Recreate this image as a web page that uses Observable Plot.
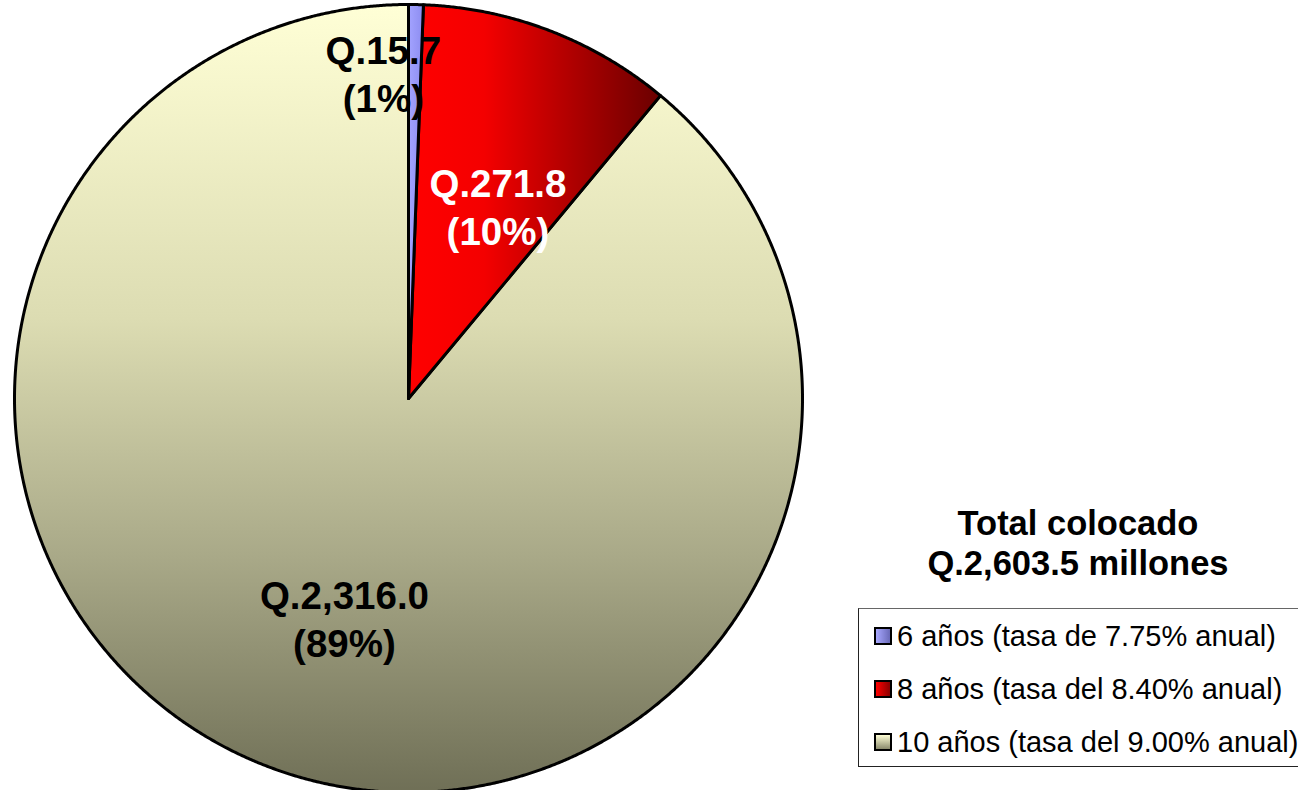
<!DOCTYPE html>
<html><head><meta charset="utf-8">
<script src="https://cdn.jsdelivr.net/npm/d3@7"></script>
<script src="https://cdn.jsdelivr.net/npm/@observablehq/plot@0.6"></script>
<style>
body{margin:0;background:#fff;font-family:"Liberation Sans",Arial,sans-serif;}
#wrap{position:relative;width:1298px;height:790px;overflow:hidden;}
#chart{position:absolute;left:0;top:0;}
#title{position:absolute;left:858px;width:440px;top:503px;text-align:center;font-weight:bold;font-size:34.5px;line-height:40px;color:#000;}
#legend{position:absolute;left:858px;top:608px;width:470px;height:159px;border:1.5px solid #222;border-top-color:#666;box-sizing:border-box;background:#fff;}
.row{position:absolute;left:15px;height:32px;line-height:32px;display:flex;align-items:center;font-size:29px;white-space:nowrap;color:#000;}
.sw{width:14px;height:14px;border:2px solid #000;margin-right:5px;flex:none;}
</style></head><body>
<div id="wrap"><div id="chart"></div><div id="title"></div><div id="legend"></div></div>
<script>
// ---- data ----
const categories = ["6 años (tasa de 7.75% anual)", "8 años (tasa del 8.40% anual)", "10 años (tasa del 9.00% anual)"];
const values = [15.7, 271.8, 2316.0];
const titleLines = ["Total colocado", "Q.2,603.5 millones"];

// ---- styles ----
const gradients = [
  {id: "g0", dir: [0,0,1,0], stops: [["0%","#a3a3ff"],["100%","#8c8cf0"]]},
  {id: "g1", dir: [0,0,1,0], stops: [["0%","#ff0000"],["30%","#f40000"],["100%","#6a0000"]]},
  {id: "g2", dir: [0,0,0,1], stops: [["0%","#ffffd6"],["40%","#dcdcb2"],["70%","#a9a988"],["100%","#6f6f56"]]}
];
const swatchCss = [
  "linear-gradient(to right,#a8a8ff,#6a6ab8)",
  "linear-gradient(to right,#ff0000,#8a0000)",
  "linear-gradient(to bottom,#ffffd6,#8a8a6c)"
];
const labelColors = ["#000", "#fff", "#000"];
const labelLayout = [{r: 0.83, da: -5.5}, {r: 0.54, da: 3.9}, {r: 0.58, da: -3.6}];

const W = 1298, H = 790, cx = 408, cy = 398, R = 394;
const total = d3.sum(values);
const fmtQ = d3.format(",.1f");
const fmtP = d3.format(".0%");

const arcs = d3.pie().sort(null).value(d => d)(values);
const pts = arcs.flatMap((a, i) => {
  const n = Math.max(2, Math.ceil((a.endAngle - a.startAngle) / 0.004));
  const out = [{k: i, x: 0, y: 0}];
  for (let j = 0; j <= n; j++) {
    const t = a.startAngle + (a.endAngle - a.startAngle) * j / n;
    out.push({k: i, x: Math.sin(t), y: Math.cos(t)});
  }
  out.push({k: i, x: 0, y: 0});
  return out;
});
const labels = arcs.map((a, i) => {
  const t = (a.startAngle + a.endAngle) / 2 + labelLayout[i].da * Math.PI / 180;
  const r = labelLayout[i].r;
  return {i, x: Math.sin(t) * r, y: Math.cos(t) * r,
          text: "Q." + fmtQ(values[i]) + "\n" + "(" + fmtP(values[i] / total) + ")"};
});

const order = [2, 1, 0];
const plot = Plot.plot({
  width: W, height: H,
  marginTop: 0, marginRight: 0, marginBottom: 0, marginLeft: 0,
  x: {domain: [-1, 1], range: [cx - R, cx + R], axis: null},
  y: {domain: [-1, 1], range: [cy + R, cy - R], axis: null},
  style: {background: "white", overflow: "visible"},
  marks: [
    ...order.map(k => Plot.line(pts.filter(d => d.k === k), {
      x: "x", y: "y", fill: `url(#${gradients[k].id})`, stroke: "#000",
      strokeWidth: 3, strokeLinejoin: "round"
    })),
    ...labels.map(l => Plot.text([l], {
      x: "x", y: "y", text: "text", fill: labelColors[l.i],
      fontSize: 38.5, fontWeight: "bold", fontFamily: "Liberation Sans, Arial, sans-serif",
      lineHeight: 1.24, lineAnchor: "middle", textAnchor: "middle"
    }))
  ]
});

const svg = d3.select(plot);
const defs = svg.insert("defs", ":first-child");
gradients.forEach(g => {
  const lg = defs.append("linearGradient").attr("id", g.id)
    .attr("x1", g.dir[0]).attr("y1", g.dir[1]).attr("x2", g.dir[2]).attr("y2", g.dir[3]);
  g.stops.forEach(s => lg.append("stop").attr("offset", s[0]).attr("stop-color", s[1]));
});
document.getElementById("chart").appendChild(plot);

document.getElementById("title").innerHTML = titleLines.join("<br>");
const legend = d3.select("#legend");
categories.forEach((c, i) => {
  const row = legend.append("div").attr("class", "row").style("top", (10.5 + 53 * i) + "px");
  row.append("div").attr("class", "sw").style("background", swatchCss[i]);
  row.append("span").text(c);
});
</script>
</body></html>
